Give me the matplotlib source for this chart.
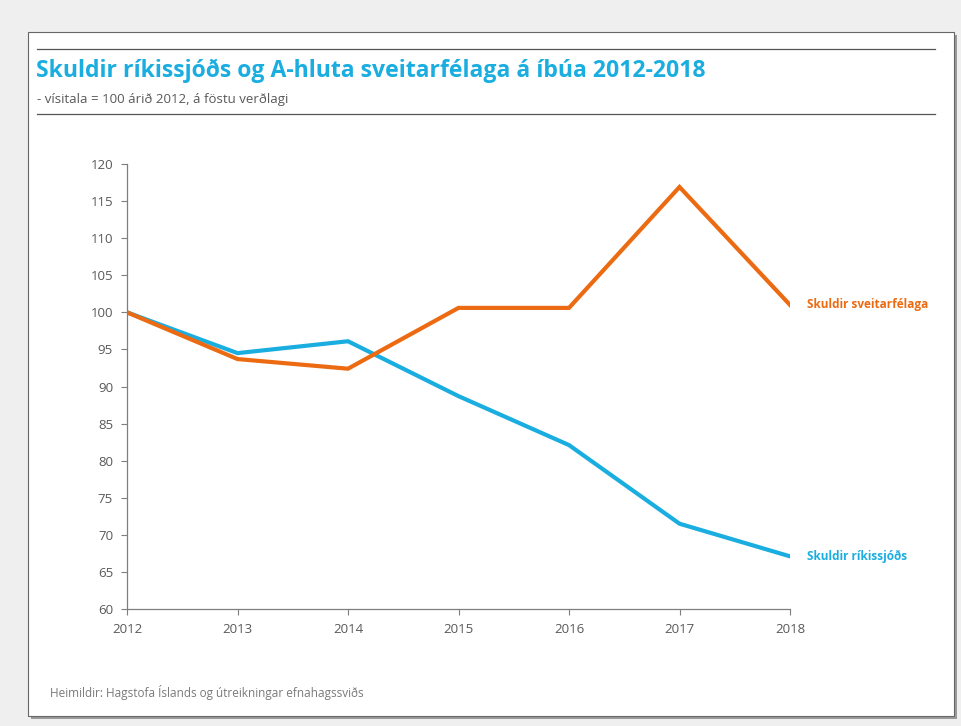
import matplotlib
matplotlib.use('Agg')
from matplotlib import pyplot as plt
from matplotlib.patches import Rectangle
from matplotlib.lines import Line2D

# data
years = [2012, 2013, 2014, 2015, 2016, 2017, 2018]
sveitarfelog = [100.0, 93.7, 92.4, 100.6, 100.6, 116.9, 101.0]
rikissjodur = [100.0, 94.5, 96.1, 88.7, 82.1, 71.5, 67.1]
y_ticks = list(range(60, 121, 5))

blue = '#1aaee0'
orange = '#ec6b12'
grey_text = '#595959'

plt.rcParams['font.family'] = ['Open Sans', 'DejaVu Sans']

fig = plt.figure(figsize=(9.62, 7.26), dpi=100)
fig.patch.set_facecolor('#efefef')

W, H = 962.0, 726.0

def fx(px):
    return px / W

def fy(py):
    return 1 - py / H

# shadow + white panel
fig.patches.append(Rectangle((fx(31), fy(719)), fx(926), (719 - 35) / H,
                             transform=fig.transFigure, facecolor='#9a9a9a',
                             edgecolor='none', zorder=0))
fig.patches.append(Rectangle((fx(28), fy(716)), fx(926), (716 - 32) / H,
                             transform=fig.transFigure, facecolor='white',
                             edgecolor='#666666', linewidth=0.8, zorder=1))

# rules above and below the title block
for yy in (49, 114):
    fig.lines.append(Line2D([fx(37), fx(935)], [fy(yy), fy(yy)],
                            transform=fig.transFigure, color='#555555',
                            linewidth=0.9, zorder=2))

fig.text(fx(36), fy(71), 'Skuldir ríkissjóðs og A-hluta sveitarfélaga á íbúa 2012-2018',
         color=blue, fontsize=16.6, fontweight='bold', va='center', ha='left')
fig.text(fx(37), fy(100), '- vísitala = 100 árið 2012, á föstu verðlagi',
         color=grey_text, fontsize=9.5, va='center', ha='left')
fig.text(fx(50), fy(692), 'Heimildir: Hagstofa Íslands og útreikningar efnahagssviðs',
         color='#7a7a7a', fontsize=8.5, va='center', ha='left')

ax = fig.add_axes([fx(127), fy(609), (790 - 127) / W, (609 - 164) / H])
ax.set_zorder(5)
ax.patch.set_alpha(0)

ax.plot(years, rikissjodur, color=blue, linewidth=3, solid_joinstyle='miter')
ax.plot(years, sveitarfelog, color=orange, linewidth=3, solid_joinstyle='miter')

ax.set_xlim(2012, 2018)
ax.set_ylim(60, 120)
ax.set_xticks(years)
ax.set_yticks(y_ticks)

for side in ('top', 'right'):
    ax.spines[side].set_visible(False)
for side in ('left', 'bottom'):
    ax.spines[side].set_color('#7f7f7f')
    ax.spines[side].set_linewidth(0.9)
ax.tick_params(axis='both', direction='out', length=4, width=0.8,
               color='#7f7f7f', labelcolor=grey_text, labelsize=9.5)
ax.tick_params(axis='x', pad=6)
ax.tick_params(axis='y', pad=6)

# end-of-line labels
ax.annotate('Skuldir sveitarfélaga', xy=(years[-1], sveitarfelog[-1]),
            xytext=(12, 0), textcoords='offset points', color=orange,
            fontsize=8.5, fontweight='bold', va='center', ha='left',
            annotation_clip=False)
ax.annotate('Skuldir ríkissjóðs', xy=(years[-1], rikissjodur[-1]),
            xytext=(12, 0), textcoords='offset points', color=blue,
            fontsize=8.5, fontweight='bold', va='center', ha='left',
            annotation_clip=False)

fig.savefig('out.png', dpi=100, facecolor=fig.get_facecolor())
